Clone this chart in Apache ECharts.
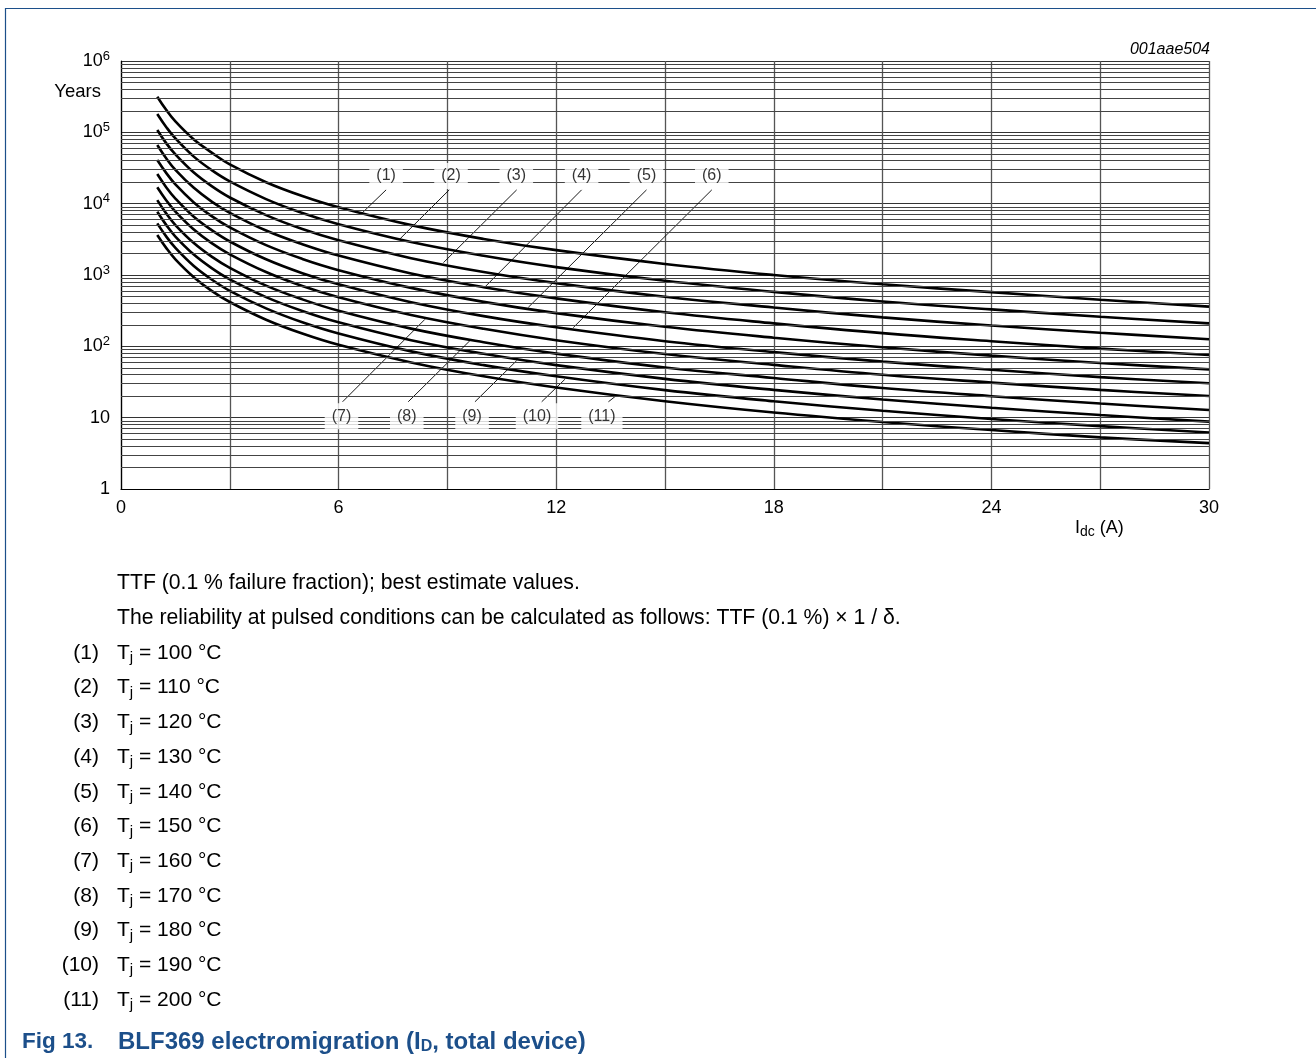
<!DOCTYPE html>
<html>
<head>
<meta charset="utf-8">
<script src="https://cdn.jsdelivr.net/npm/echarts@6/dist/echarts.min.js"></script>
<style>
  html, body { margin: 0; padding: 0; background: #fff; }
  #chart { width: 1316px; height: 1058px; }
</style>
</head>
<body>
<div id="chart"></div>
<script>
// drain current (A) where the curves were read
const currentA = [1, 1.25, 1.5, 2, 2.5, 3, 4, 5, 6, 8, 10, 12, 15, 18, 21, 24, 27, 30];

// TTF in years, one array per junction temperature
const ttf1  = [316000, 205000, 142000, 80000, 52000, 35500, 20000, 12800, 8900, 5000, 3200, 2230, 1430, 1000, 740, 575, 450, 360];
const ttf2  = [181000, 118000, 82000, 46000, 29500, 20500, 11600, 7400, 5150, 2900, 1860, 1290, 830, 580, 425, 330, 260, 210];
const ttf3  = [108000, 70000, 49000, 27500, 17600, 12200, 6900, 4400, 3060, 1720, 1100, 770, 495, 350, 255, 196, 155, 126];
const ttf4  = [66500, 43000, 29800, 16800, 10700, 7450, 4200, 2700, 1870, 1050, 675, 470, 300, 210, 153, 118, 93, 75.6];
const ttf5  = [41000, 26800, 18600, 10500, 6700, 4650, 2620, 1680, 1170, 660, 420, 292, 188, 132, 97, 74, 58.5, 47.6];
const ttf6  = [26000, 16900, 11800, 6600, 4250, 2950, 1660, 1060, 740, 415, 265, 185, 118, 83, 61, 47, 37, 30.3];
const ttf7  = [17000, 11100, 7750, 4380, 2800, 1950, 1100, 700, 487, 275, 176, 122, 78, 55, 40, 31, 24.5, 20.1];
const ttf8  = [11200, 7250, 5020, 2830, 1810, 1260, 710, 455, 315, 177, 114, 79, 50.5, 36, 26, 20, 15.8, 12.8];
const ttf9  = [7700, 5000, 3460, 1950, 1250, 868, 490, 313, 217, 122, 78.5, 54.5, 35, 24.5, 18, 13.8, 10.9, 8.8];
const ttf10 = [5300, 3450, 2400, 1350, 865, 600, 340, 217, 151, 85, 54.5, 38, 24.3, 17, 12.5, 9.6, 7.6, 6.2];
const ttf11 = [3640, 2380, 1660, 940, 600, 418, 236, 151, 105, 59.5, 38, 26.5, 17, 11.8, 8.7, 6.7, 5.3, 4.4];

const curveNames = ['(1)', '(2)', '(3)', '(4)', '(5)', '(6)', '(7)', '(8)', '(9)', '(10)', '(11)'];
const tempLabels = [100, 110, 120, 130, 140, 150, 160, 170, 180, 190, 200];

// curve tags: label centre and leader line (from label to curve), data coords
const tagPos = [[7.31, 24400], [9.1, 24400], [10.9, 24400], [12.7, 24400], [14.49, 24400], [16.29, 24400],
                [6.08, 10.5], [7.88, 10.5], [9.68, 10.5], [11.47, 10.5], [13.26, 10.5]];
const leaderFrom = [[7.31, 15600], [9.05, 15600], [10.91, 15600], [12.7, 15600], [14.49, 15600], [16.29, 15600],
                    [6.11, 16.7], [7.92, 16.7], [9.76, 16.7], [11.6, 16.7], [13.44, 16.7]];
const leaderTo = [[6.64, 7330], [7.69, 3200], [8.89, 1490], [10.06, 700], [11.23, 352], [12.47, 183],
                  [8.38, 239], [9.62, 120], [10.91, 63], [12.24, 34.5], [13.62, 19.7]];

const FONT = "'Liberation Sans', Arial, Helvetica, sans-serif";
const BLUE = '#1c4f8a';

// minor log grid lines 2..9 in each decade
const minorLines = [];
for (let d = 1; d < 1e6; d *= 10) {
    for (let m = 2; m <= 9; m++) minorLines.push({ yAxis: m * d });
}

const allCurves = [ttf1, ttf2, ttf3, ttf4, ttf5, ttf6, ttf7, ttf8, ttf9, ttf10, ttf11];

const curveSeries = allCurves.map((vals, i) => ({
    type: 'line',
    name: curveNames[i],
    data: currentA.map((x, j) => [x, vals[j]]),
    smooth: 0.4,
    showSymbol: false,
    symbol: 'none',
    z: 3,
    lineStyle: { color: '#000', width: 2.6 },
    silent: true,
    animation: false
}));

const chart = echarts.init(document.getElementById('chart'), null, { renderer: 'canvas' });

const option = {
    backgroundColor: '#fff',
    animation: false,
    grid: { left: 121, right: 107, top: 61, bottom: 569, containLabel: false, outerBoundsMode: 'none' },
    xAxis: {
        type: 'value',
        min: 0, max: 30, interval: 3,
        axisLine: { show: true, lineStyle: { color: '#000', width: 1.2 } },
        axisTick: { show: false },
        axisLabel: {
            margin: 10, fontSize: 18, color: '#000', fontFamily: FONT,
            formatter: v => (v % 6 === 0 ? String(v) : '')
        },
        splitLine: { show: true, lineStyle: { color: '#555', width: 1.3 } }
    },
    yAxis: {
        type: 'log', logBase: 10,
        min: 1, max: 1e6,
        axisLine: { show: true, lineStyle: { color: '#000', width: 1.2 } },
        axisTick: { show: false },
        axisLabel: {
            margin: 11, fontSize: 18, color: '#000', fontFamily: FONT,
            formatter: v => {
                const e = Math.round(Math.log10(v));
                if (e === 0) return '1';
                if (e === 1) return '10';
                return '10{sup|' + e + '}';
            },
            rich: { sup: { fontSize: 13, color: '#000', fontFamily: FONT, padding: [0, 0, 10, 0] } }
        },
        splitLine: { show: true, lineStyle: { color: '#333', width: 1 } }
    },
    series: [
        {
            type: 'line', data: [], z: 1, silent: true,
            markLine: {
                silent: true, animation: false,
                symbol: ['none', 'none'],
                label: { show: false },
                emphasis: { disabled: true },
                lineStyle: { color: '#444', width: 1, type: 'solid' },
                data: minorLines
            }
        },
        ...curveSeries,
        {
            type: 'lines',
            coordinateSystem: 'cartesian2d',
            z: 4, silent: true,
            lineStyle: { color: '#000', width: 0.9, opacity: 1, curveness: 0 },
            data: leaderFrom.map((p, i) => ({ coords: [p, leaderTo[i]] }))
        },
        {
            type: 'scatter',
            z: 6, silent: true,
            symbolSize: 1,
            itemStyle: { color: '#fff' },
            data: tagPos.map((p, i) => ({ value: p, name: curveNames[i] })),
            label: {
                show: true, position: [0.5, 0.5],
                align: 'center', verticalAlign: 'middle',
                formatter: '{b}',
                fontSize: 16, color: '#000', fontFamily: FONT,
                textBorderWidth: 0,
                backgroundColor: '#fff',
                padding: [5, 7]
            }
        }
    ],
    graphic: [
        { type: 'line', silent: true, shape: { x1: 5, y1: 8.5, x2: 1316, y2: 8.5 }, style: { stroke: BLUE, lineWidth: 1.2 } },
        { type: 'line', silent: true, shape: { x1: 5.5, y1: 8, x2: 5.5, y2: 1058 }, style: { stroke: BLUE, lineWidth: 1.2 } },
        { type: 'text', x: 1210, y: 50, style: { text: '001aae504', fill: '#000', fontSize: 16, fontStyle: 'italic', fontFamily: FONT, align: 'right', verticalAlign: 'middle' } },
        { type: 'text', x: 101, y: 92, style: { text: 'Years', fill: '#000', fontSize: 18.5, fontFamily: FONT, align: 'right', verticalAlign: 'middle' } },
        {
            type: 'text', x: 1075, y: 528,
            style: {
                text: 'I{sub|dc} (A)', fill: '#000', fontSize: 18, fontFamily: FONT, align: 'left', verticalAlign: 'middle',
                rich: { sub: { fontSize: 14, fontFamily: FONT, fill: '#000', padding: [9, 0, 0, 0] } }
            }
        },
        { type: 'text', x: 117, y: 583, style: { text: 'TTF (0.1 % failure fraction); best estimate values.', fill: '#000', fontSize: 21.2, fontFamily: FONT, align: 'left', verticalAlign: 'middle' } },
        { type: 'text', x: 117, y: 618, style: { text: 'The reliability at pulsed conditions can be calculated as follows: TTF (0.1 %) \u00d7 1 / \u03b4.', fill: '#000', fontSize: 21.2, fontFamily: FONT, align: 'left', verticalAlign: 'middle' } },
        ...curveNames.map((n, i) => ({
            type: 'text', x: 99, y: 653 + i * 34.7,
            style: { text: n, fill: '#000', fontSize: 21, fontFamily: FONT, align: 'right', verticalAlign: 'middle' }
        })),
        ...tempLabels.map((t, i) => ({
            type: 'text', x: 117, y: 653 + i * 34.7,
            style: {
                text: 'T{sub|j} = ' + t + ' \u00b0C', fill: '#000', fontSize: 21, fontFamily: FONT, align: 'left', verticalAlign: 'middle',
                rich: { sub: { fontSize: 15, fontFamily: FONT, fill: '#000', padding: [10, 0, 0, 0] } }
            }
        })),
        { type: 'text', x: 22, y: 1042, style: { text: 'Fig 13.', fill: BLUE, fontSize: 22.5, fontWeight: 'bold', fontFamily: FONT, align: 'left', verticalAlign: 'middle' } },
        {
            type: 'text', x: 118, y: 1042,
            style: {
                text: 'BLF369 electromigration (I{sub|D}, total device)', fill: BLUE, fontSize: 24, fontWeight: 'bold', fontFamily: FONT, align: 'left', verticalAlign: 'middle',
                rich: { sub: { fontSize: 16, fontWeight: 'bold', fontFamily: FONT, fill: BLUE, padding: [10, 0, 0, 0] } }
            }
        }
    ]
};

chart.setOption(option);
</script>
</body>
</html>
